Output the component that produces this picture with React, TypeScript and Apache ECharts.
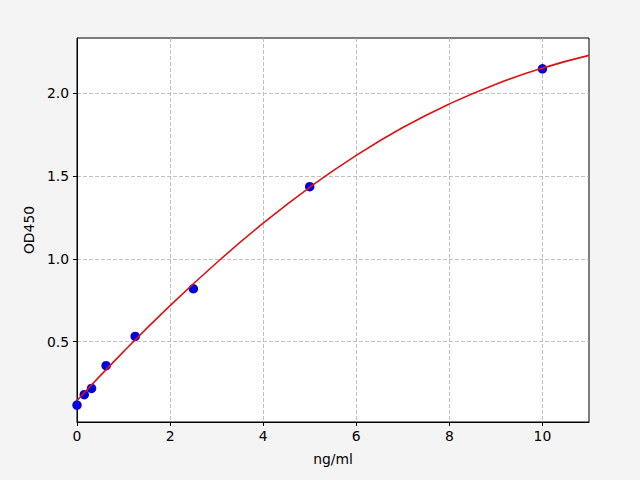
import React, { useEffect, useRef } from 'react';
import * as echarts from 'echarts';

// standards (ng/ml) and measured OD450
const concentrations = [0, 0.156, 0.3125, 0.625, 1.25, 2.5, 5, 10];
const odValues = [0.117, 0.18, 0.218, 0.355, 0.532, 0.82, 1.437, 2.149];

// fitted curve at each whole ng/ml
const curveX = [0, 1, 2, 3, 4, 5, 6, 7, 8, 9, 10, 11];
const curveY = [0.145, 0.44, 0.718, 0.977, 1.216, 1.433, 1.626, 1.794, 1.937, 2.056, 2.153, 2.23];

const xTicks = [0, 2, 4, 6, 8, 10];
const yTicks = [0.5, 1.0, 1.5, 2.0];

const FONT = 'DejaVu Sans';

export default function App() {
  const chartRef = useRef<HTMLDivElement>(null);

  useEffect(() => {
    if (!chartRef.current) return;
    const chart = echarts.init(chartRef.current, null, { renderer: 'svg' });

    const gridLine = {
      show: true,
      lineStyle: { color: '#b0b0b0', width: 0.8, type: [4, 2] as number[] }
    };

    const option: echarts.EChartsOption = {
      animation: false,
      backgroundColor: '#f4f4f4',
      textStyle: { fontFamily: FONT },
      grid: {
        left: 77,
        right: 51,
        top: 38,
        bottom: 58,
        show: true,
        backgroundColor: '#ffffff',
        borderColor: '#000000',
        borderWidth: 1
      },
      xAxis: {
        type: 'value',
        min: 0,
        max: 11,
        name: 'ng/ml',
        nameLocation: 'middle',
        nameGap: 30,
        nameTextStyle: { color: '#000', fontSize: 13.9, fontFamily: FONT },
        axisLine: { show: true, onZero: false, lineStyle: { color: '#000', width: 1 } },
        axisTick: { show: true, length: 4, customValues: xTicks, lineStyle: { color: '#000' } },
        axisLabel: {
          customValues: xTicks,
          margin: 7,
          color: '#000',
          fontSize: 13.9,
          fontFamily: FONT,
          formatter: (v: number) => String(v)
        },
        splitLine: gridLine
      },
      yAxis: {
        type: 'value',
        min: 0.015,
        max: 2.335,
        name: 'OD450',
        nameLocation: 'middle',
        nameGap: 39,
        nameTextStyle: { color: '#000', fontSize: 13.9, fontFamily: FONT },
        axisLine: { show: true, onZero: false, lineStyle: { color: '#000', width: 1 } },
        axisTick: { show: true, length: 4, customValues: yTicks, lineStyle: { color: '#000' } },
        axisLabel: {
          customValues: yTicks,
          margin: 8,
          color: '#000',
          fontSize: 13.9,
          fontFamily: FONT,
          formatter: (v: number) => v.toFixed(1)
        },
        splitLine: gridLine
      },
      series: [
        {
          name: 'standards',
          type: 'scatter',
          data: concentrations.map((c, i) => [c, odValues[i]]),
          symbolSize: 9.5,
          itemStyle: { color: '#0000dd', opacity: 1 },
          z: 2
        },
        {
          name: 'fit',
          type: 'line',
          data: curveX.map((x, i) => [x, curveY[i]]),
          smooth: true,
          showSymbol: false,
          lineStyle: { color: '#e01010', width: 1.6 },
          itemStyle: { color: '#e01010' },
          z: 3
        }
      ]
    };

    chart.setOption(option);

    return () => {
      chart.dispose();
    };
  }, []);

  return (
    <div
      ref={chartRef}
      style={{ position: 'absolute', left: 0, top: 0, width: 640, height: 480 }}
    />
  );
}
